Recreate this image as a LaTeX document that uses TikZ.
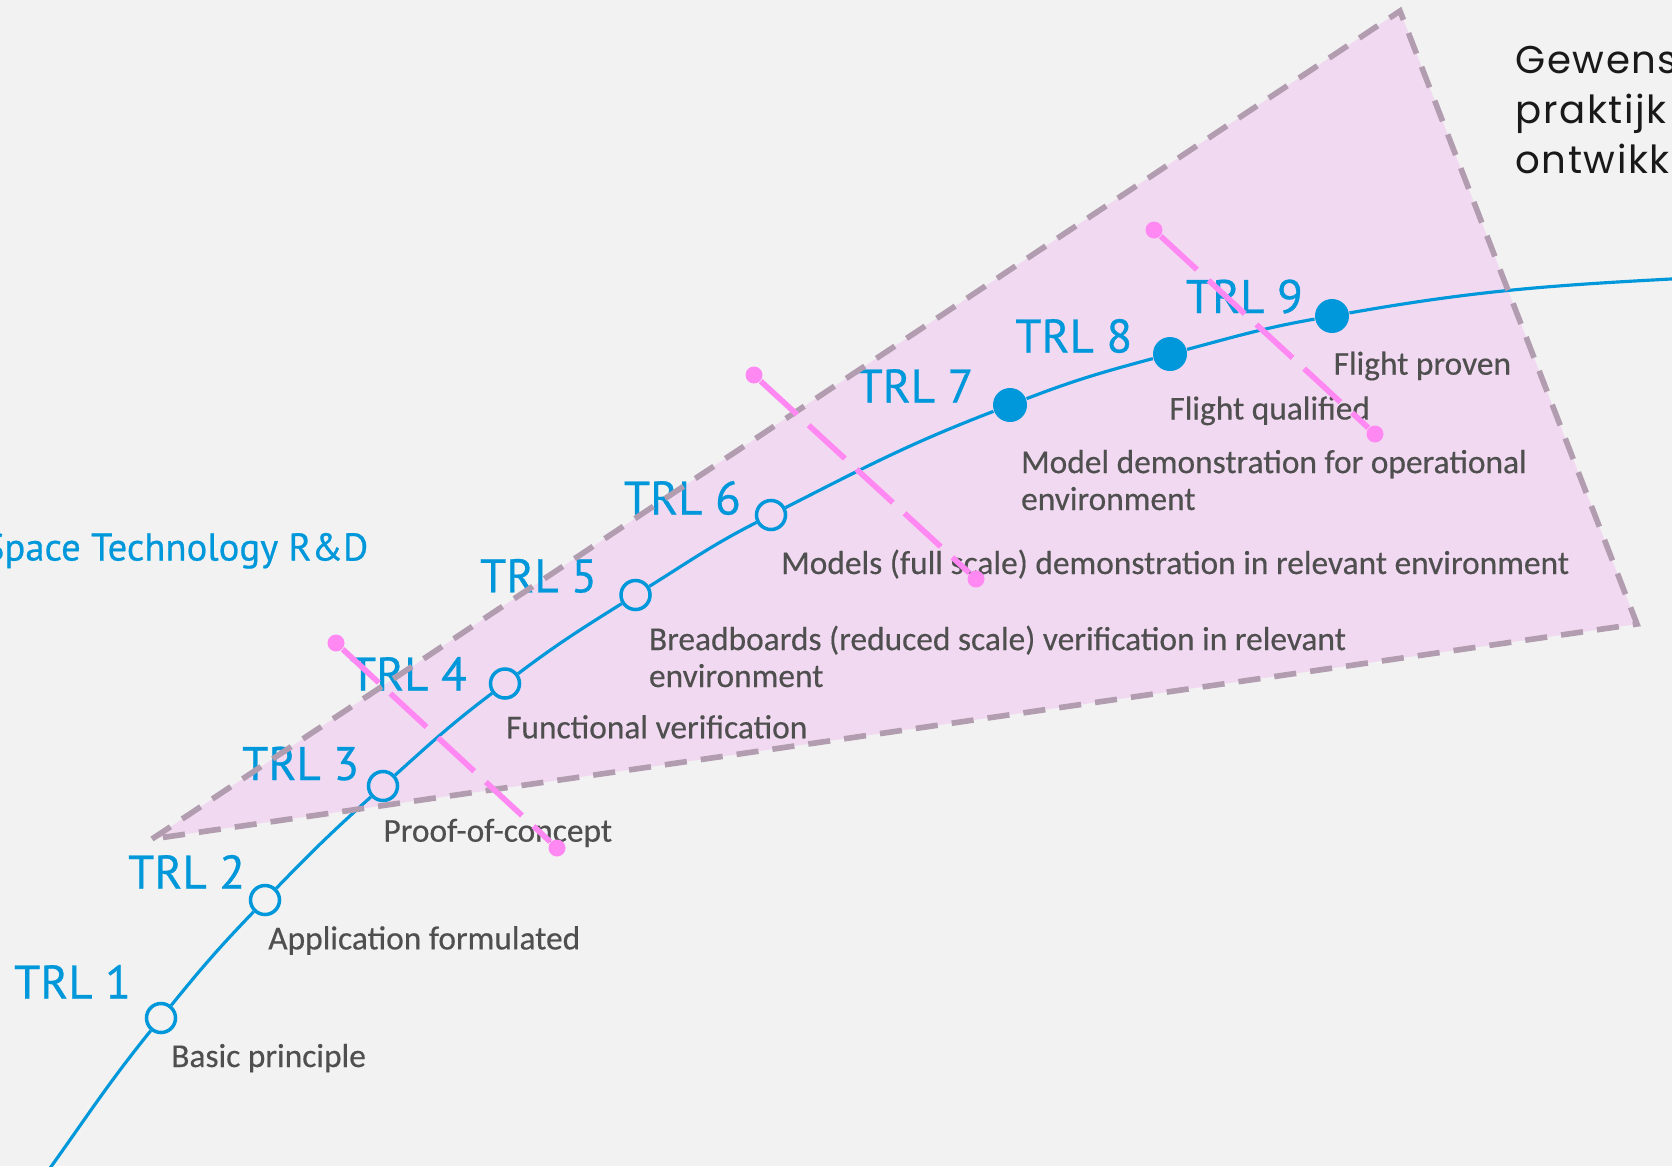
\documentclass[tikz,border=0pt]{standalone}
\usepackage{fontspec}
\usetikzlibrary{positioning}
\newfontfamily\trlfont[FakeBold=0.6]{PT Sans}
\newfontfamily\descfont[FakeBold=0.4]{Carlito}
\newfontfamily\notefont[LetterSpace=4]{Poppins}
\definecolor{esablue}{HTML}{0098DA}
\definecolor{pagebg}{HTML}{F2F2F2}
\definecolor{zonefill}{HTML}{F1DAF1}
\definecolor{zoneline}{HTML}{B29DB0}
\definecolor{cutpink}{HTML}{FF88F2}
\definecolor{desctext}{HTML}{4F4F4F}
\tikzset{
  trlopen/.style = {draw=esablue, line width=1pt, circle, minimum size=0.29cm, inner sep=0pt},
  trlfull/.style = {fill=esablue, circle, minimum size=0.34cm, inner sep=0pt},
  trl/.style = {text=esablue, font=\trlfont\fontsize{13.4}{16}\selectfont, inner sep=0pt, anchor=base},
  desc/.style = {text=desctext, font=\descfont\fontsize{9.5}{10.5}\selectfont, inner sep=0pt, anchor=base west, align=left},
  curve/.style = {draw=esablue, line width=0.9pt},
  zoneedge/.style = {draw=zoneline, line width=1.6pt, dash pattern=on 6.3pt off 4pt},
  cut/.style = {draw=cutpink, line width=1.6pt, dash pattern=on 14pt off 4.5pt},
  cutend/.style = {fill=cutpink, circle, minimum size=0.17cm, inner sep=0pt}
}

\begin{document}
\begin{tikzpicture}[x=0.01cm, y=-0.01cm]
  \useasboundingbox (0,0) rectangle (1672,1166);
  \fill[pagebg] (0,0) rectangle (1672,1166);

  % TRL 3-9 zone
  \coordinate (ztip) at (152,839);
  \coordinate (ztop) at (1400,11);
  \coordinate (zright) at (1637,624);
  \fill[zonefill] (ztip) -- (ztop) -- (zright) -- cycle;

  % readiness levels
  \node[trlopen] (c1) at (161,1018) {};
  \node[trlopen] (c2) at (265,900) {};
  \node[trlopen] (c3) at (383,786) {};
  \node[trlopen] (c4) at (505,683.5) {};
  \node[trlopen] (c5) at (635.5,595) {};
  \node[trlopen] (c6) at (771,515) {};
  \node[trlfull] (c7) at (1010,405) {};
  \node[trlfull] (c8) at (1170,354) {};
  \node[trlfull] (c9) at (1332,316) {};
  \coordinate (cstart) at (40,1182);
  \coordinate (cend) at (1690,278);
  \draw[curve] (cstart) to[out=54,in=231] (c1) to[out=51,in=226] (c2)
    to[out=46,in=222] (c3) to[out=42,in=217] (c4) to[out=37,in=212] (c5)
    to[out=32,in=207] (c6) to[out=27,in=201] (c7) to[out=21,in=195] (c8)
    to[out=15,in=190] (c9) to[out=10,in=183] (cend);

  \node[trl] (l1) at (72.5,998.5) {TRL 1};
  \node[trl] (l2) at (186.6,888.5) {TRL 2};
  \node[trl] (l3) at (300.7,780) {TRL 3};
  \node[trl] (l4) at (408.4,690.5) {TRL 4};
  \node[trl] (l5) at (538.5,592.3) {TRL 5};
  \node[trl] (l6) at (682.4,514.5) {TRL 6};
  \node[trl] (l7) at (915,402.5) {TRL 7};
  \node[trl] (l8) at (1073.8,352.5) {TRL 8};
  \node[trl] (l9) at (1244.4,313) {TRL 9};

  \node[desc] (d1) at (170.6,1067) {Basic principle};
  \node[desc] (d2) at (267.6,949.4) {Application formulated};
  \node[desc] (d3) at (382.8,841.7) {Proof-of-concept};
  \node[desc] (d4) at (505.4,738.3) {Functional verification};
  \node[desc] (d5) at (648.3,687) {Breadboards (reduced scale) verification in relevant\\environment};
  \node[desc] (d6) at (780.5,574) {Models (full scale) demonstration in relevant environment};
  \node[desc] (d7) at (1020.4,510) {Model demonstration for operational\\environment};
  \node[desc] (d8) at (1168.7,419.5) {Flight qualified};
  \node[desc] (d9) at (1332.9,374.7) {Flight proven};

  \node[trl, font=\trlfont\fontsize{11}{13}\selectfont, anchor=base east] (rnd) at (369,560.5) {Space Technology R\&D};
  \node[font=\notefont\fontsize{11}{14.2}\selectfont, text=black!90, inner sep=0pt, anchor=base west, align=left] (note) at (1515,173.3) {Gewens\\praktijk\\ontwikk};

  \draw[zoneedge] (ztip) -- (ztop) -- (zright) -- cycle;

  % cuts
  \node[cutend] (p1a) at (336,643) {};
  \node[cutend] (p1b) at (557,848) {};
  \node[cutend] (p2a) at (754,375) {};
  \node[cutend] (p2b) at (976,579) {};
  \node[cutend] (p3a) at (1154,230) {};
  \node[cutend] (p3b) at (1375,434) {};
  \draw[cut] (p1a) -- (p1b);
  \draw[cut] (p2a) -- (p2b);
  \draw[cut] (p3a) -- (p3b);
\end{tikzpicture}
\end{document}
